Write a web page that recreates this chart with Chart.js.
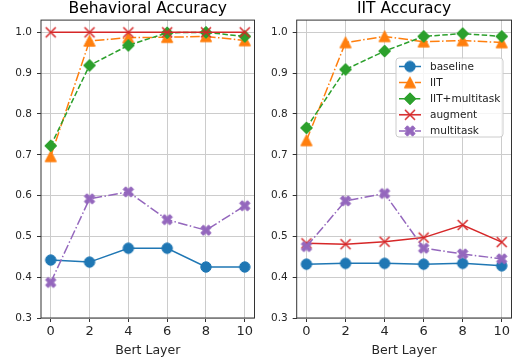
<!DOCTYPE html>
<html>
<head>
<meta charset="utf-8">
<script src="https://cdn.jsdelivr.net/npm/chart.js@4.4.0/dist/chart.umd.min.js"></script>
<style>
  html, body { margin: 0; padding: 0; background: #fff; }
  #wrap { position: relative; width: 519px; height: 362px; }
  #c1 { position: absolute; left: 0; top: 0; }
  #c2 { position: absolute; left: 262px; top: 0; }
</style>
</head>
<body>
<div id="wrap">
  <canvas id="c1" width="262" height="362"></canvas>
  <canvas id="c2" width="257" height="362"></canvas>
</div>
<script>
const layers = [0, 2, 4, 6, 8, 10];
const yTicks = [0.3, 0.4, 0.5, 0.6, 0.7, 0.8, 0.9, 1.0];
const seriesNames = ["baseline", "IIT", "IIT+multitask", "augment", "multitask"];

// Behavioral Accuracy
const behBaseline = [0.442, 0.437, 0.471, 0.471, 0.425, 0.425];
const behIIT = [0.696, 0.979, 0.987, 0.988, 0.99, 0.98];
const behIITMulti = [0.722, 0.919, 0.968, 0.999, 1.0, 0.99];
const behAugment = [1.0, 1.0, 1.0, 1.0, 1.0, 1.0];
const behMulti = [0.387, 0.592, 0.609, 0.541, 0.515, 0.575];

// IIT Accuracy
const iitBaseline = [0.432, 0.434, 0.434, 0.432, 0.434, 0.428];
const iitIIT = [0.735, 0.975, 0.99, 0.977, 0.98, 0.975];
const iitIITMulti = [0.766, 0.909, 0.954, 0.99, 0.997, 0.99];
const iitAugment = [0.483, 0.481, 0.487, 0.497, 0.528, 0.486];
const iitMulti = [0.475, 0.587, 0.605, 0.471, 0.457, 0.445];

const colors = ["#1f77b4", "#ff7f0e", "#2ca02c", "#d62728", "#9467bd"];
const dashes = [[], [9.6, 2.4, 1.5, 2.4], [5.5, 2.4], [], [9.6, 2.4, 1.5, 2.4]];
const markerKinds = ["circle", "triangle", "diamond", "x", "X"];
const FONT = "'DejaVu Sans', sans-serif";

// marker images, drawn the way matplotlib draws o ^ D x X
function makeMarker(kind, color) {
  const c = document.createElement("canvas");
  c.width = 16; c.height = 16;
  const g = c.getContext("2d");
  g.translate(8, 8);
  g.fillStyle = color;
  g.strokeStyle = color;
  g.lineWidth = 1;
  g.beginPath();
  if (kind === "circle") {
    g.arc(0, 0, 5.2, 0, Math.PI * 2);
  } else if (kind === "triangle") {
    g.moveTo(0, -5.6); g.lineTo(5.6, 5.2); g.lineTo(-5.6, 5.2); g.closePath();
  } else if (kind === "diamond") {
    g.moveTo(0, -6); g.lineTo(6, 0); g.lineTo(0, 6); g.lineTo(-6, 0); g.closePath();
  } else if (kind === "x") {
    g.lineWidth = 1.5;
    g.moveTo(-5, -5); g.lineTo(5, 5);
    g.moveTo(5, -5); g.lineTo(-5, 5);
    g.stroke();
    return c;
  } else if (kind === "X") {
    const v = [[-1, -3], [-1, -1], [-3, -1], [-3, 1], [-1, 1], [-1, 3], [1, 3], [1, 1], [3, 1], [3, -1], [1, -1], [1, -3]];
    const s = 11 / 6, r = Math.SQRT1_2;
    v.forEach(([x, y], i) => {
      const px = (x - y) * r * s, py = (x + y) * r * s;
      if (i === 0) g.moveTo(px, py); else g.lineTo(px, py);
    });
    g.closePath();
  }
  g.fill();
  g.stroke();
  return c;
}
const markers = markerKinds.map((k, i) => makeMarker(k, colors[i]));

function makeDatasets(series) {
  return series.map((vals, i) => ({
    label: seriesNames[i],
    data: layers.map((x, j) => ({ x: x, y: vals[j] })),
    borderColor: colors[i],
    backgroundColor: colors[i],
    borderWidth: 1.5,
    borderDash: dashes[i],
    pointStyle: markers[i],
    pointRadius: 6,
    pointHoverRadius: 6,
    tension: 0,
    order: 5 - i
  }));
}

const boxPlugin = {
  id: "box",
  afterDraw(chart) {
    const a = chart.chartArea, ctx = chart.ctx;
    ctx.save();
    ctx.strokeStyle = "#333";
    ctx.lineWidth = 1;
    ctx.strokeRect(a.left, a.top, a.right - a.left, a.bottom - a.top);
    ctx.restore();
  }
};

const legendPlugin = {
  id: "innerLegend",
  afterDraw(chart) {
    const ctx = chart.ctx;
    const x0 = 134, y0 = 58, w = 107, h = 79;
    ctx.save();
    ctx.beginPath();
    ctx.roundRect(x0, y0, w, h, 3);
    ctx.fillStyle = "rgba(255,255,255,0.8)";
    ctx.fill();
    ctx.strokeStyle = "#cccccc";
    ctx.lineWidth = 1;
    ctx.stroke();
    ctx.font = "10.5px " + FONT;
    ctx.textBaseline = "middle";
    chart.data.datasets.forEach((ds, i) => {
      const y = 66.5 + i * 16.1;
      ctx.beginPath();
      ctx.setLineDash(ds.borderDash);
      ctx.strokeStyle = ds.borderColor;
      ctx.lineWidth = 1.5;
      ctx.moveTo(137, y); ctx.lineTo(159, y);
      ctx.stroke();
      ctx.setLineDash([]);
      ctx.drawImage(ds.pointStyle, 148 - 8, y - 8);
      ctx.fillStyle = "#222";
      ctx.fillText(ds.label, 168, y + 0.5);
    });
    ctx.restore();
  }
};

function makeChart(id, title, series, yWidth, padRight, extraPlugins) {
  const ctx = document.getElementById(id).getContext("2d");
  return new Chart(ctx, {
    type: "line",
    data: { datasets: makeDatasets(series) },
    options: {
      responsive: false,
      animation: false,
      devicePixelRatio: 1,
      layout: { padding: { left: 0, right: padRight, top: 0, bottom: 0 } },
      plugins: {
        legend: { display: false },
        tooltip: { enabled: false },
        title: {
          display: true,
          text: title,
          fullSize: false,
          color: "#000",
          font: { family: FONT, size: 15.5, weight: "normal" },
          padding: { top: 0, bottom: 1.5 }
        }
      },
      scales: {
        x: {
          type: "linear",
          min: -0.5,
          max: 10.5,
          afterBuildTicks: (s) => { s.ticks = layers.map((v) => ({ value: v })); },
          afterFit: (s) => { s.height = 44; },
          ticks: {
            autoSkip: false,
            maxRotation: 0,
            padding: 2,
            color: "#262626",
            font: { family: FONT, size: 13 },
            callback: (v) => String(v)
          },
          grid: { color: "#cccccc", tickColor: "#333", tickLength: 4 },
          border: { display: false },
          title: {
            display: true,
            text: "Bert Layer",
            color: "#262626",
            font: { family: FONT, size: 12.5 },
            padding: { top: 0, bottom: 4 }
          }
        },
        y: {
          min: 0.3,
          max: 1.03,
          afterBuildTicks: (s) => { s.ticks = yTicks.map((v) => ({ value: v })); },
          afterFit: (s) => { s.width = yWidth; },
          ticks: {
            padding: 5,
            color: "#262626",
            font: { family: FONT, size: 10.5 },
            callback: (v) => v.toFixed(1)
          },
          grid: { color: "#cccccc", tickColor: "#333", tickLength: 4 },
          border: { display: false }
        }
      }
    },
    plugins: [boxPlugin].concat(extraPlugins)
  });
}

makeChart("c1", "Behavioral Accuracy",
  [behBaseline, behIIT, behIITMulti, behAugment, behMulti], 41, 1.5, []);
makeChart("c2", "IIT Accuracy",
  [iitBaseline, iitIIT, iitIITMulti, iitAugment, iitMulti], 34.7, 2.3, [legendPlugin]);
</script>
</body>
</html>
